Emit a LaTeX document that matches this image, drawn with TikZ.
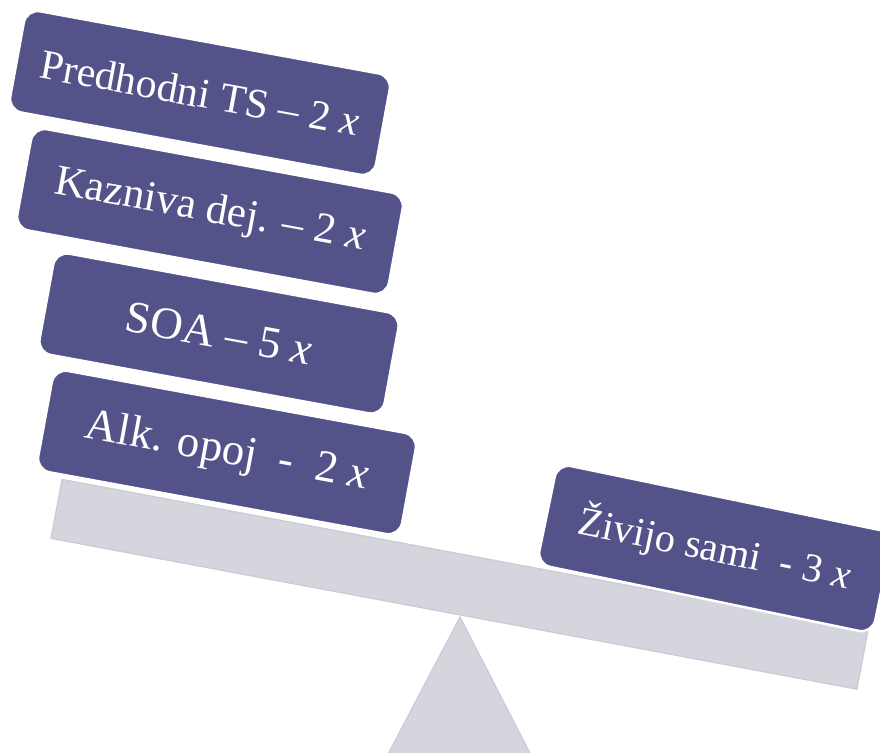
\documentclass[tikz,border=0pt]{standalone}
\usepackage{fontspec}
\setmainfont{Liberation Serif}
\usepackage{graphicx}
\definecolor{boxfill}{RGB}{83,83,138}
\definecolor{beamfill}{RGB}{212,213,221}
\definecolor{beamline}{RGB}{202,203,212}
\begin{document}
\begin{tikzpicture}[x=1pt,y=-1pt,
  box/.style={draw=white, line width=2.5pt, fill=boxfill, rounded corners=14pt,
    inner sep=0pt, text=white, minimum height=103pt, anchor=center},
  beambar/.style={draw=beamline, line width=1.2pt, fill=beamfill, inner sep=0pt,
    minimum width=820pt, minimum height=60pt, anchor=center}]
\useasboundingbox (0,0) rectangle (880,752);
\begin{scope}
  \clip (0,0) rectangle (880,752);
  \filldraw[fill=beamfill, draw=beamline, line width=1.2pt]
    (460,617) -- (364,800) -- (554,800) -- cycle;
\end{scope}
\node[beambar, rotate=-10.6] (beam) at (459.5,584.3) {};
\node[box, rotate=-10.4, minimum width=372pt] (b1) at (200,93)
  {\resizebox{323pt}{!}{Predhodni TS – 2 \textit{x}}};
\node[box, rotate=-10.4, minimum width=378pt] (b2) at (210,211.5)
  {\resizebox{315pt}{!}{Kazniva dej. – 2 \textit{x}}};
\node[box, rotate=-10.4, minimum width=351pt] (b3) at (219,333.5)
  {\resizebox{189pt}{!}{SOA – 5 \textit{x}}};
\node[box, rotate=-10.4, minimum width=370pt] (b4) at (227,452.5)
  {\resizebox{287pt}{!}{Alk. opoj\ \ -\ \ 2 \textit{x}}};
\node[box, rotate=-11.7, minimum width=343pt] (b5) at (715,548.5)
  {\resizebox{277pt}{!}{Živijo sami\ \ - 3 \textit{x}}};
\end{tikzpicture}
\end{document}
